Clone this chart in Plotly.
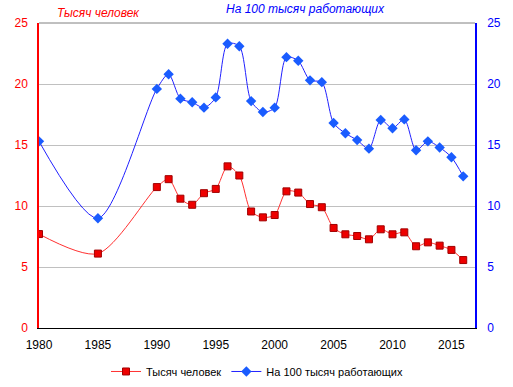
import plotly.graph_objects as go

years = [1980, 1985] + list(range(1990, 2017))
thousands = [7.7, 6.1, 11.55, 12.2, 10.6, 10.1, 11.05, 11.4, 13.25, 12.5, 9.55, 9.07, 9.26,
             11.2, 11.1, 10.16, 9.9, 8.2, 7.68, 7.54, 7.27, 8.09, 7.68, 7.84, 6.7, 7.02, 6.75, 6.4, 5.57]
per100k = [15.3, 9.0, 19.6, 20.8, 18.8, 18.5, 18.06, 18.9, 23.3, 23.1, 18.6, 17.7, 18.06,
           22.2, 21.9, 20.3, 20.15, 16.8, 15.96, 15.4, 14.7, 17.05, 16.37, 17.1, 14.57, 15.3, 14.8, 14.0, 12.43]
name1 = "Тысяч человек"
name2 = "На 100 тысяч работающих"
xticks = [1980, 1985, 1990, 1995, 2000, 2005, 2010, 2015]
yticks = [0, 5, 10, 15, 20, 25]

FONT = "Liberation Sans, Arial, sans-serif"
CLEAR = "rgba(0,0,0,0)"

fig = go.Figure()
fig.add_trace(go.Scatter(
    x=years, y=thousands, name=name1, mode="lines+markers",
    line=dict(color="#ff3030", width=1, shape="spline", smoothing=0.8),
    marker=dict(symbol="square", size=7, color="#ee0000", line=dict(color="#a00000", width=1)),
    yaxis="y"))
fig.add_trace(go.Scatter(
    x=years, y=per100k, name=name2, mode="lines+markers",
    line=dict(color="#2020ff", width=1, shape="spline", smoothing=0.8),
    marker=dict(symbol="diamond", size=8, color="#1a5cff", line=dict(color="#1a5cff", width=0)),
    yaxis="y2"))

fig.update_layout(
    width=513, height=387,
    margin=dict(l=39, r=38, t=23, b=59, autoexpand=False),
    paper_bgcolor="white", plot_bgcolor="white",
    font=dict(family=FONT, size=12, color="black"),
    showlegend=True,
    legend=dict(orientation="h", x=0.5, xanchor="center", y=-0.095, yanchor="top",
                font=dict(size=11), itemwidth=30, tracegroupgap=0),
    xaxis=dict(range=[1980, 2017], tickvals=xticks, showgrid=False, zeroline=False,
               showline=True, linecolor="black", linewidth=1, ticks="outside", ticklen=6,
               tickcolor=CLEAR, automargin=False,
               tickfont=dict(size=12, color="black")),
    yaxis=dict(range=[0, 25], tickvals=yticks, showgrid=True, gridcolor="#c0c0c0",
               zeroline=False, showline=True, linecolor="#ff0000", linewidth=1.5,
               tickfont=dict(size=12, color="#ff0000"), ticks="outside", ticklen=7,
               tickcolor=CLEAR, automargin=False),
    yaxis2=dict(range=[0, 25], tickvals=yticks, overlaying="y", side="right",
                showgrid=False, zeroline=False, showline=True, linecolor="#0000ff", linewidth=1.5,
                tickfont=dict(size=12, color="#0000ff"), ticks="outside", ticklen=8,
                tickcolor=CLEAR, automargin=False),
    shapes=[dict(type="line", xref="paper", yref="paper", x0=0, x1=1, y0=1, y1=1,
                 line=dict(color="#808080", width=1))],
    annotations=[
        dict(text="<i>" + name1 + "</i>", xref="paper", yref="paper", x=0.037, y=1.0,
             xanchor="left", yanchor="bottom", yshift=1, showarrow=False,
             font=dict(size=12, color="#ff0000", family=FONT)),
        dict(text="<i>" + name2 + "</i>", xref="paper", yref="paper", x=0.612, y=1.0,
             xanchor="center", yanchor="bottom", yshift=5, showarrow=False,
             font=dict(size=12, color="#0000ff", family=FONT)),
    ],
)

fig.write_html("out.html", config={"displayModeBar": False},
               post_script="document.body.style.margin='0';document.body.style.padding='0';"
                           "document.body.style.overflow='hidden';")
